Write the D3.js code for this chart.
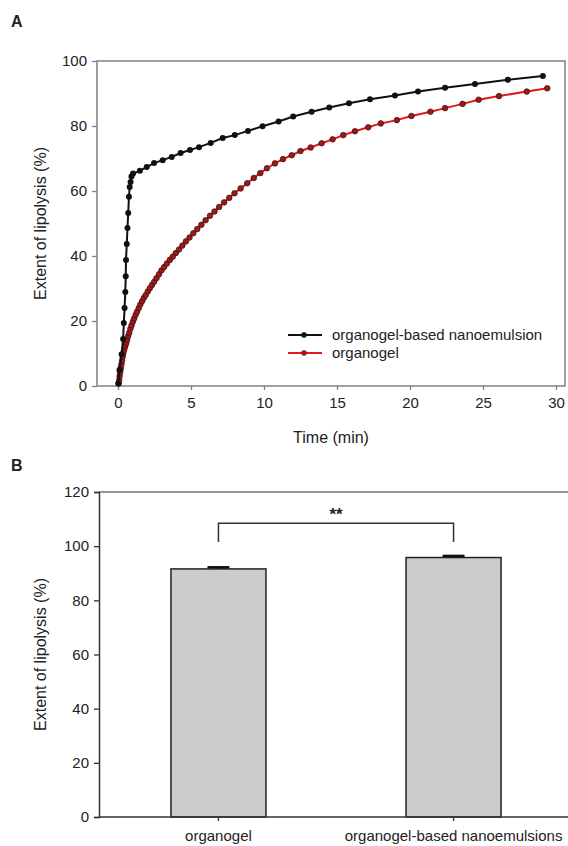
<!DOCTYPE html>
<html>
<head>
<meta charset="utf-8">
<script src="https://cdnjs.cloudflare.com/ajax/libs/d3/7.8.5/d3.min.js"></script>
<style>
  body { margin: 0; background: #fff; }
  text { font-family: "Liberation Sans", Arial, sans-serif; fill: #222; }
</style>
</head>
<body>
<script>
// panel A: organogel-based nanoemulsion (black)
var nanoTime = [0.02, 0.10, 0.25, 0.35, 0.40, 0.45, 0.50, 0.53, 0.55, 0.60, 0.65, 0.70, 0.75, 0.80, 0.86, 0.92,
  1.03, 1.50, 1.97, 2.47, 3.06, 3.68, 4.29, 4.93, 5.55, 6.35, 7.17, 8.00, 8.90, 9.90, 11.00, 12.00,
  13.26, 14.47, 15.82, 17.26, 18.97, 20.55, 22.40, 24.45, 26.70, 29.10]
var nanoValue = [0.8, 4.9, 9.8, 14.5, 19.4, 24.0, 28.9, 33.8, 38.8, 43.7, 48.6, 53.2, 58.2, 61.2, 62.8, 64.5,
  65.4, 66.2, 67.4, 68.6, 69.5, 70.5, 71.7, 72.6, 73.5, 74.8, 76.3, 77.2, 78.5, 79.9, 81.4, 82.9,
  84.4, 85.7, 87.0, 88.2, 89.4, 90.6, 91.8, 92.9, 94.2, 95.4]

// panel A: organogel (red)
var gelTime = [0.05, 0.08, 0.11, 0.14, 0.17, 0.20, 0.24, 0.28, 0.32, 0.36, 0.41, 0.46, 0.51, 0.57, 0.63, 0.70,
  0.77, 0.85, 0.93, 1.02, 1.11, 1.21, 1.31, 1.42, 1.53, 1.65, 1.77, 1.90, 2.04, 2.18, 2.33, 2.48,
  2.64, 2.81, 2.98, 3.16, 3.35, 3.55, 3.75, 3.96, 4.18, 4.41, 4.65, 4.90, 5.16, 5.43, 5.71, 6.00,
  6.30, 6.61, 6.93, 7.27, 7.62, 7.98, 8.40, 8.85, 9.30, 9.75, 10.20, 10.75, 11.30, 11.90, 12.50, 13.20,
  13.95, 14.70, 15.43, 16.23, 17.14, 18.00, 19.10, 20.10, 21.40, 22.40, 23.60, 24.70, 26.10, 28.00, 29.40]
var gelValue = [0.8, 1.8, 3.0, 4.0, 4.9, 5.8, 6.8, 7.9, 9.0, 10.0, 10.9, 11.8, 12.5, 13.3, 14.3, 15.4,
  16.4, 17.6, 18.7, 19.8, 20.8, 21.9, 22.9, 24.0, 25.1, 26.1, 27.1, 28.0, 29.1, 30.1, 31.1, 32.1,
  33.2, 34.4, 35.6, 36.6, 37.7, 38.8, 39.8, 40.9, 42.0, 43.2, 44.5, 45.7, 47.0, 48.3, 49.6, 51.0,
  52.4, 53.7, 55.1, 56.5, 57.9, 59.3, 60.8, 62.4, 64.0, 65.5, 67.0, 68.5, 69.8, 71.0, 72.3, 73.4,
  74.7, 75.9, 77.2, 78.4, 79.6, 80.8, 81.8, 83.1, 84.4, 85.5, 86.8, 88.1, 89.2, 90.6, 91.6]

var seriesNames = ["organogel-based nanoemulsion", "organogel"]
var xTicksA = [0, 5, 10, 15, 20, 25, 30]
var yTicksA = [0, 20, 40, 60, 80, 100]

// panel B: final extent of lipolysis
var barNames = ["organogel", "organogel-based nanoemulsions"]
var barValues = [91.6, 95.8]
var barErrors = [0.6, 0.6]
var yTicksB = [0, 20, 40, 60, 80, 100, 120]
var bracket = [101.5, 108.5]
var signif = "**"

var w = 568
var h = 846

var svg = d3.select("body")
            .append("svg")
            .attr("width", w)
            .attr("height", h)

// ---------- panel A ----------
var xA = d3.scaleLinear().domain([0, 30]).range([118, 556])
var yA = d3.scaleLinear().domain([0, 100]).range([386, 61])
var boxA = {left: 97, right: 565}

svg.append("text")
   .attr("x", 11).attr("y", 27)
   .style("font-size", "16px").style("font-weight", "bold")
   .text("A")

svg.append("rect")
   .attr("x", boxA.left).attr("y", yA(100))
   .attr("width", boxA.right - boxA.left).attr("height", yA(0) - yA(100))
   .attr("fill", "none").attr("stroke", "#808080").attr("stroke-width", 1.5)

var axA = svg.append("g").attr("transform", "translate(0," + yA(0) + ")")
             .call(d3.axisBottom(xA).tickValues(xTicksA).tickSize(4).tickPadding(7))
var ayA = svg.append("g").attr("transform", "translate(" + boxA.left + ",0)")
             .call(d3.axisLeft(yA).tickValues(yTicksA).tickSize(5).tickPadding(5))

;[axA, ayA].forEach(function(a) {
  a.select(".domain").remove()
  a.selectAll("line").attr("stroke", "#808080").attr("stroke-width", 1.3)
  a.selectAll("text").style("font-size", "15px").style("font-family", "Liberation Sans, Arial").attr("fill", "#222")
})

svg.append("text")
   .attr("x", (boxA.left + boxA.right) / 2).attr("y", 443)
   .attr("text-anchor", "middle").style("font-size", "16px")
   .text("Time (min)")

svg.append("text")
   .attr("transform", "translate(46," + ((yA(0) + yA(100)) / 2) + ") rotate(-90)")
   .attr("text-anchor", "middle").style("font-size", "16px")
   .text("Extent of lipolysis (%)")

var nano = nanoTime.map(function(t, i) { return [t, nanoValue[i]] })
var gel = gelTime.map(function(t, i) { return [t, gelValue[i]] })

var line = d3.line()
             .x(function(d) { return xA(d[0]) })
             .y(function(d) { return yA(d[1]) })

svg.append("path").datum(gel)
   .attr("d", line).attr("fill", "none")
   .attr("stroke", "#e0191e").attr("stroke-width", 2)
svg.selectAll(".gelpt").data(gel).enter().append("circle")
   .attr("class", "gelpt")
   .attr("cx", function(d) { return xA(d[0]) })
   .attr("cy", function(d) { return yA(d[1]) })
   .attr("r", 2.8)
   .attr("fill", "#9b1b1b").attr("stroke", "#3a0a0a").attr("stroke-width", 0.7)

svg.append("path").datum(nano)
   .attr("d", line).attr("fill", "none")
   .attr("stroke", "#111").attr("stroke-width", 2)
svg.selectAll(".nanopt").data(nano).enter().append("circle")
   .attr("class", "nanopt")
   .attr("cx", function(d) { return xA(d[0]) })
   .attr("cy", function(d) { return yA(d[1]) })
   .attr("r", 3)
   .attr("fill", "#111")

// legend
var legColors = [{line: "#111", dot: "#111"}, {line: "#e0191e", dot: "#9b1b1b"}]
var leg = svg.selectAll(".leg").data(seriesNames).enter().append("g")
             .attr("class", "leg")
             .attr("transform", function(d, i) { return "translate(288," + (335 + i * 18) + ")" })
leg.append("line")
   .attr("x1", 0).attr("x2", 34).attr("y1", 0).attr("y2", 0)
   .attr("stroke", function(d, i) { return legColors[i].line }).attr("stroke-width", 2)
leg.append("circle")
   .attr("cx", 16).attr("cy", 0).attr("r", 2.8)
   .attr("fill", function(d, i) { return legColors[i].dot })
leg.append("text")
   .attr("x", 44).attr("y", 0).attr("dy", "0.35em")
   .style("font-size", "15px")
   .text(function(d) { return d })

// ---------- panel B ----------
var xB = d3.scaleBand().domain(barNames).range([99, 573]).paddingInner(0.596).paddingOuter(0.306)
var yB = d3.scaleLinear().domain([0, 120]).range([817, 492])

svg.append("text")
   .attr("x", 11).attr("y", 471)
   .style("font-size", "16px").style("font-weight", "bold")
   .text("B")

// top frame line
svg.append("line")
   .attr("x1", 99).attr("x2", w).attr("y1", yB(120)).attr("y2", yB(120))
   .attr("stroke", "#707070").attr("stroke-width", 1.5)

svg.selectAll(".bar").data(barNames).enter().append("rect")
   .attr("class", "bar")
   .attr("x", function(d) { return xB(d) })
   .attr("y", function(d, i) { return yB(barValues[i]) })
   .attr("width", xB.bandwidth())
   .attr("height", function(d, i) { return yB(0) - yB(barValues[i]) })
   .attr("fill", "#cccccc").attr("stroke", "#222").attr("stroke-width", 1.5)

// error bars
barNames.forEach(function(d, i) {
  var cx = xB(d) + xB.bandwidth() / 2
  svg.append("line")
     .attr("x1", cx).attr("x2", cx)
     .attr("y1", yB(barValues[i])).attr("y2", yB(barValues[i] + barErrors[i]))
     .attr("stroke", "#111").attr("stroke-width", 1.5)
  svg.append("line")
     .attr("x1", cx - 11).attr("x2", cx + 11)
     .attr("y1", yB(barValues[i] + barErrors[i])).attr("y2", yB(barValues[i] + barErrors[i]))
     .attr("stroke", "#111").attr("stroke-width", 2.5)
})

var axB = svg.append("g").attr("transform", "translate(0," + yB(0) + ")")
             .call(d3.axisBottom(xB).tickSize(4).tickPadding(9))
var ayB = svg.append("g").attr("transform", "translate(99,0)")
             .call(d3.axisLeft(yB).tickValues(yTicksB).tickSize(5).tickPadding(5))

;[axB, ayB].forEach(function(a) {
  a.select(".domain").attr("stroke", "#333").attr("stroke-width", 1.5)
  a.selectAll("line").attr("stroke", "#333").attr("stroke-width", 1.3)
  a.selectAll("text").style("font-size", "15px").style("font-family", "Liberation Sans, Arial").attr("fill", "#222")
})
axB.select(".domain").attr("d", "M99,0H" + w)

// significance bracket
var c1 = xB(barNames[0]) + xB.bandwidth() / 2
var c2 = xB(barNames[1]) + xB.bandwidth() / 2
svg.append("path")
   .attr("d", "M" + c1 + "," + yB(bracket[0]) + "V" + yB(bracket[1]) + "H" + c2 + "V" + yB(bracket[0]))
   .attr("fill", "none").attr("stroke", "#333").attr("stroke-width", 1.5)
svg.append("text")
   .attr("x", (c1 + c2) / 2).attr("y", 520)
   .attr("text-anchor", "middle")
   .style("font-size", "17px").style("font-weight", "bold")
   .text(signif)

svg.append("text")
   .attr("transform", "translate(46," + ((yB(0) + yB(120)) / 2) + ") rotate(-90)")
   .attr("text-anchor", "middle").style("font-size", "16px")
   .text("Extent of lipolysis (%)")
</script>
</body>
</html>
